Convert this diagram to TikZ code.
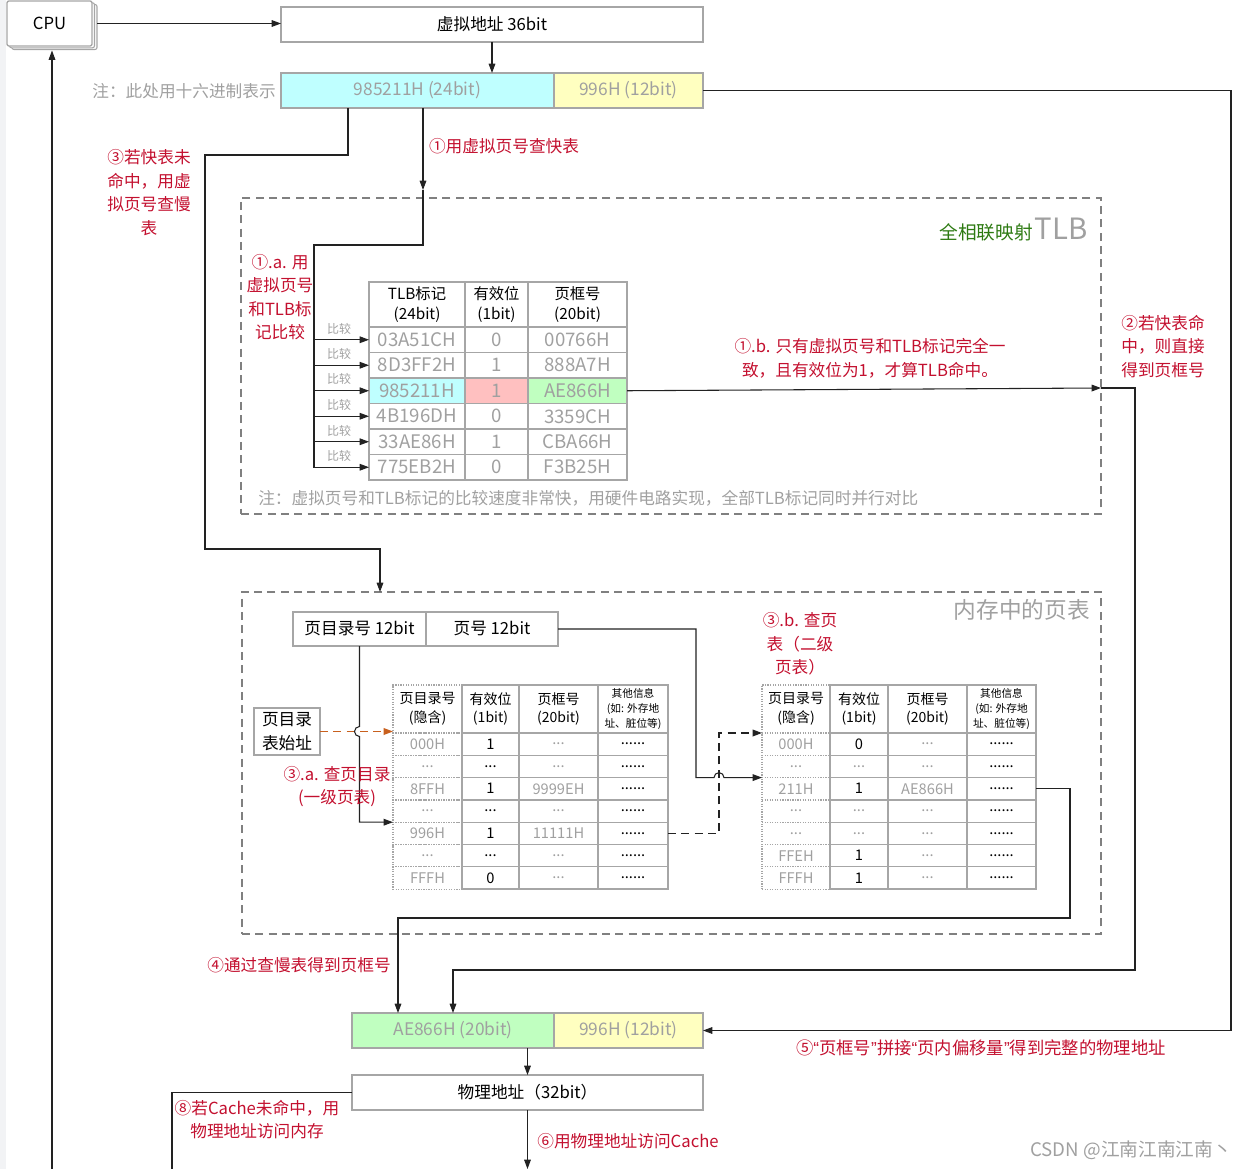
\documentclass[tikz,border=0pt]{standalone}
\usepackage{fontspec}
\setmainfont{Noto Sans CJK SC}
\newfontfamily\latq{Liberation Sans}
\usetikzlibrary{arrows.meta}
\definecolor{lred}{HTML}{C3102F}
\definecolor{lgreen}{HTML}{2D7A12}
\definecolor{tgray}{HTML}{A0A0A0}
\definecolor{bgray}{HTML}{A6A6A6}
\definecolor{dgray}{HTML}{808080}
\definecolor{fcyan}{HTML}{BFFFFF}
\definecolor{fyel}{HTML}{FFFFC0}
\definecolor{fgrn}{HTML}{C0FFC0}
\definecolor{fpink}{HTML}{FFC0C0}
\definecolor{lnk}{HTML}{222222}
\definecolor{orng}{HTML}{C8601E}
\definecolor{leftbg}{HTML}{F2F3F5}
\newcommand{\fs}[2]{\fontsize{#1pt}{#2pt}\selectfont}
\newcommand{\pdots}{...}
\newcommand{\pdotss}{......}
\begin{document}
\begin{tikzpicture}[x=0.75pt,y=-0.75pt,
  R/.style n args={4}{minimum width={(#3-#1)*0.75pt},minimum height={(#4-#2)*0.75pt},at={({(#1+#3)/2},{(#2+#4)/2})}},
  box/.style={draw=bgray,line width=1pt,inner sep=0pt,outer sep=0pt},
  cell/.style={draw=bgray,line width=1pt,inner sep=0pt,outer sep=0pt},
  dcell/.style={draw=bgray,line width=0.9pt,densely dotted,inner sep=0pt,outer sep=0pt},
  region/.style={draw=dgray,line width=1.5pt,dash pattern=on 6pt off 4pt,inner sep=0pt},
  arr/.style={draw=lnk,line width=0.8pt,-{Triangle[length=7pt,width=5pt]}},
  ln/.style={draw=lnk,line width=0.8pt},
  lbl/.style={text=lred,font=\fs{12.5}{17.6},align=center,inner sep=0pt},
  note/.style={text=tgray,font=\fs{12.5}{15},inner sep=0pt},
  cmp/.style={text=tgray,font=\fs{9}{10},inner sep=0pt},
  tlbh/.style={font=\fs{11.5}{15},align=center},
  tlbt/.style={text=tgray,font=\fs{14}{16}},
  pth/.style={font=\fs{10.5}{14},align=center},
  pto/.style={font=\fs{8}{11},align=center},
  ptg/.style={text=tgray,font=\fs{11}{13}},
  ptb/.style={text=black,font=\fs{11}{13}},
  boxt/.style={font=\fs{12.5}{15}},
  bigt/.style={text=tgray,font=\fs{13}{15}}
]
\useasboundingbox (0,0) rectangle (1242,1169);
\fill[leftbg] (0,0) rectangle (6,1169);

% CPU
\draw[draw=gray!70,fill=white,rounded corners=1.5pt,line width=0.8pt] (12,4.5) rectangle (97,49.5);
\draw[draw=gray!70,fill=white,rounded corners=1.5pt,line width=0.8pt] (9.5,2.8) rectangle (94.5,47.8);
\node[box,draw=gray!70,fill=white,rounded corners=1.5pt,R={7}{1}{92}{46},boxt] (cpu) {CPU};

% virtual address
\node[box,R={281}{7}{703}{42},boxt] (va) {虚拟地址 36bit};
\node[box,fill=fcyan,R={281}{73}{554}{108},bigt] (vpn) {985211H (24bit)};
\node[box,fill=fyel,R={554}{73}{703}{108},bigt] (off) {996H (12bit)};
\node[note,anchor=east] (n1) at (276,91) {注：此处用十六进制表示};

\draw[arr] ([xshift=3.75pt]cpu.east) -- (cpu.east -| va.west);
\draw[arr] (va.south) -- (va.south |- vpn.north);

% TLB region
\node[region,R={241}{198}{1101}{514}] (tlbreg) {};
\node[anchor=base east,inner sep=0pt] (tlbtitle) at (1088,240) {\textcolor{lgreen}{\fs{14}{16}全相联映射}\,\textcolor{tgray}{\fs{22}{24}TLB}};

% TLB table header
\node[cell,R={369}{282}{465}{327},tlbh] (tlb-0-1) {TLB标记\\(24bit)};
\node[cell,R={465}{282}{528}{327},tlbh] (tlb-0-2) {有效位\\(1bit)};
\node[cell,R={528}{282}{627}{327},tlbh] (tlb-0-3) {页框号\\(20bit)};
\foreach \r/\ta/\tb/\tc in {1/03A51CH/0/00766H,2/8D3FF2H/1/888A7H,4/4B196DH/0/3359CH,5/33AE86H/1/CBA66H,6/775EB2H/0/F3B25H}{
  \pgfmathsetmacro\ya{327+25.5*(\r-1)}
  \pgfmathsetmacro\yb{\ya+25.5}
  \node[cell,R={369}{\ya}{465}{\yb},tlbt] (tlb-\r-1) {\ta};
  \node[cell,R={465}{\ya}{528}{\yb},tlbt] (tlb-\r-2) {\tb};
  \node[cell,R={528}{\ya}{627}{\yb},tlbt] (tlb-\r-3) {\tc};
}
\node[cell,fill=fcyan,R={369}{378}{465}{403.5},tlbt] (tlb-3-1) {985211H};
\node[cell,fill=fpink,R={465}{378}{528}{403.5},tlbt] (tlb-3-2) {1};
\node[cell,fill=fgrn,R={528}{378}{627}{403.5},tlbt] (tlb-3-3) {AE866H};

\node[note,anchor=west] (n2) at (258,498) {注：虚拟页号和TLB标记的比较速度非常快，用硬件电路实现，全部TLB标记同时并行对比};

% lookup TLB
\coordinate (tlbin) at (423,190);
\coordinate (trunk) at (314,245);
\draw[arr] (vpn.south -| tlbin) -- (tlbin);
\draw[ln] (tlbin) -- (tlbin |- trunk) -- (trunk) -- (314,467.5);
\foreach \r in {1,...,6}{
  \draw[arr] (trunk |- tlb-\r-1.west) -- (tlb-\r-1.west);
  \node[cmp] at ([xshift=-22.5pt,yshift=8.5pt]tlb-\r-1.west) {比较};
}

% TLB hit
\coordinate (hit) at (1101,388);
\draw[arr] (tlb-3-3.east) -- (hit);

% page table region
\node[region,R={242}{592}{1101}{934}] (ptreg) {};
\node[anchor=base east,inner sep=0pt,text=tgray,font=\fs{17}{19}] (pttitle) at (1090,618) {内存中的页表};

% miss path
\coordinate (miss) at (205,155);
\draw[arr] (348,108) -- (348,155) -- (miss) -- (205,549) -- (380,549) -- (380,592);

% split address
\node[box,R={293}{612}{426}{646},boxt] (pdn) {页目录号 12bit};
\node[box,R={426}{612}{558}{646},boxt] (pn) {页号 12bit};
\node[box,R={254}{708}{320}{755},font=\fs{12.5}{18},align=center] (ptbase) {页目录\\表始址};

% page table headers
\foreach \T/\xa/\xb/\xc/\xd/\xe in {pt1/393/462/519/598/668,pt2/762/830/888/967/1036}{
  \node[dcell,R={\xa}{685}{\xb}{733},pth] (\T-0-1) {页目录号\\(隐含)};
  \node[cell,R={\xb}{685}{\xc}{733},pth] (\T-0-2) {有效位\\(1bit)};
  \node[cell,R={\xc}{685}{\xd}{733},pth] (\T-0-3) {页框号\\(20bit)};
  \node[cell,R={\xd}{685}{\xe}{733},pto] (\T-0-4) {其他信息\\(如: 外存地\\址、脏位等)};
}
\foreach \r/\a/\b/\c in {1/000H/1/\pdots,2/\pdots/\pdots/\pdots,3/8FFH/1/9999EH,4/\pdots/\pdots/\pdots,5/996H/1/11111H,6/\pdots/\pdots/\pdots,7/FFFH/0/\pdots}{
  \pgfmathsetmacro\ya{733+22.3*(\r-1)}
  \pgfmathsetmacro\yb{\ya+22.3}
  \node[dcell,R={393}{\ya}{462}{\yb},ptg] (pt1-\r-1) {\a};
  \node[cell,R={462}{\ya}{519}{\yb},ptb] (pt1-\r-2) {\b};
  \node[cell,R={519}{\ya}{598}{\yb},ptg] (pt1-\r-3) {\c};
  \node[cell,R={598}{\ya}{668}{\yb},ptb] (pt1-\r-4) {\pdotss};
}
\foreach \r/\a/\b/\c in {1/000H/0/\pdots,2/\pdots/{\textcolor{tgray}{\pdots}}/\pdots,3/211H/1/AE866H,4/\pdots/{\textcolor{tgray}{\pdots}}/\pdots,5/\pdots/{\textcolor{tgray}{\pdots}}/\pdots,6/FFEH/1/\pdots,7/FFFH/1/\pdots}{
  \pgfmathsetmacro\ya{733+22.3*(\r-1)}
  \pgfmathsetmacro\yb{\ya+22.3}
  \node[dcell,R={762}{\ya}{830}{\yb},ptg] (pt2-\r-1) {\a};
  \node[cell,R={830}{\ya}{888}{\yb},ptb] (pt2-\r-2) {\b};
  \node[cell,R={888}{\ya}{967}{\yb},ptg] (pt2-\r-3) {\c};
  \node[cell,R={967}{\ya}{1036}{\yb},ptb] (pt2-\r-4) {\pdotss};
}

% page directory base -> first table
\draw[draw=orng,line width=1pt,dash pattern=on 6pt off 4pt,-{Triangle[length=7pt,width=5pt]}] (ptbase.east) -- (ptbase.east -| pt1-0-1.west);
% directory number -> first table (hop)
\draw[arr] (pdn.south) -- ([yshift=3.75pt]pdn.south |- ptbase.east) arc[start angle=90,end angle=270,radius=3.75pt] -- (pdn.south |- pt1-4-1.south west) -- (pt1-4-1.south west);
% page number -> second table (hop)
\draw[arr] (pn.east) -- (696,629) -- (696,777.6) -- (714,777.6) arc[start angle=180,end angle=0,radius=3.75pt] -- (pt2-2-1.south west);
% first table entry -> second table
\draw[draw=lnk,line width=1pt,dash pattern=on 6pt off 4pt,-{Triangle[length=7pt,width=5pt]}] (pt1-5-4.east) -- (719,833.35) -- (719,733) -- (pt2-0-1.south west);

% bottom
\node[box,fill=fgrn,R={352}{1013}{554}{1048},bigt] (ppn) {AE866H (20bit)};
\node[box,fill=fyel,R={554}{1013}{703}{1048},bigt] (off2) {996H (12bit)};
\node[box,R={352}{1075}{703}{1110},boxt] (pa) {物理地址（32bit）};

\draw[arr] (pt2-3-4.east) -- (1070,788.75) -- (1070,918) -- (398,918) -- (398,1013);
\draw[arr] (hit) -- (1135,388) -- (1135,970) -- (453,970) -- (453,1013);
\draw[arr] (off.east) -- (1231,90.5) -- (1231,1030.5) -- (off2.east);
\draw[arr] (ppn.south -| pa.north) -- (pa.north);
\coordinate (memout) at (172,1169);
\coordinate (cacheout) at (527.5,1169);
\coordinate (cpuin) at (52,1169);
\draw[ln] (pa.west) -- (pa.west -| memout) -- (memout);
\draw[arr] (pa.south) -- (cacheout);
\draw[arr] (cpuin) -- (52,50.5);

% labels
\node[lbl] (l1) at (504,146) {①用虚拟页号查快表};
\node[lbl] (l3) at (149,192.5) {③若快表未\\命中，用虚\\拟页号查慢\\表};
\node[lbl] (l1a) at (280,297) {①.a. 用\\虚拟页号\\和TLB标\\记比较};
\node[lbl] (l1b) at (870,358.5) {①.b. 只有虚拟页号和TLB标记完全一\\致，且有效位为1，才算TLB命中。};
\node[lbl] (l2) at (1163,346.5) {②若快表命\\中，则直接\\得到页框号};
\node[lbl] (l3b) at (800,644) {③.b. 查页\\表（二级\\页表）};
\node[lbl] (l3a) at (337,786.5) {③.a. 查页目录\\(一级页表)};
\node[lbl] (l4) at (299,965) {④通过查慢表得到页框号};
\node[lbl,font=\fs{13}{17.6}] (l5) at (981,1048) {⑤{\latq “}页框号{\latq ”}拼接{\latq “}页内偏移量{\latq ”}得到完整的物理地址};
\node[lbl] (l8) at (257,1119.5) {⑧若Cache未命中，用\\物理地址访问内存};
\node[lbl] (l6) at (628,1141) {⑥用物理地址访问Cache};
\node[text=tgray,font=\fs{14}{16},anchor=east,inner sep=0pt] (wm) at (1232,1150) {CSDN @江南江南江南丶};
\end{tikzpicture}
\end{document}
